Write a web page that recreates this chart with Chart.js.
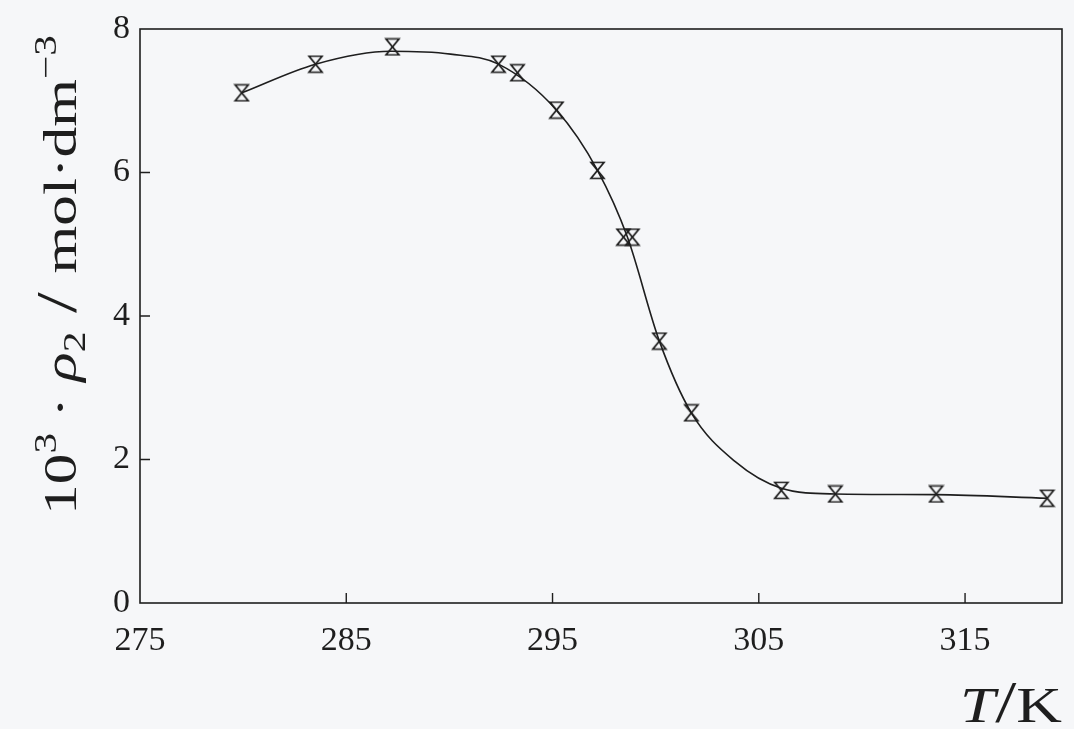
<!DOCTYPE html>
<html>
<head>
<meta charset="utf-8">
<script src="https://cdn.jsdelivr.net/npm/chart.js@4.4.1/dist/chart.umd.min.js"></script>
<style>
  html, body { margin: 0; padding: 0; background: #f6f7f9; }
  #wrap { width: 1074px; height: 729px; }
</style>
</head>
<body>
<div id="wrap"><canvas id="c" width="1074" height="729"></canvas></div>
<script>
// measured points (T / K, 10^3·rho2 / mol dm^-3)
const temps = [279.93, 283.51, 287.24, 292.38, 293.30, 295.19, 297.18, 298.44, 298.87, 300.18, 301.73, 306.09, 308.71, 313.60, 318.98];
const rho   = [7.11, 7.51, 7.75, 7.51, 7.39, 6.87, 6.03, 5.10, 5.10, 3.65, 2.65, 1.57, 1.52, 1.52, 1.46];

// fitted curve
const curveT   = [279.93, 283.51, 287.15, 290.06, 292.38, 295.19, 297.18, 298.63, 300.18, 301.73, 303.86, 306.09, 308.71, 313.60, 318.98];
const curveRho = [7.11, 7.51, 7.69, 7.65, 7.51, 6.87, 6.03, 5.10, 3.65, 2.65, 1.97, 1.60, 1.52, 1.51, 1.46];

const xTicks = [275, 285, 295, 305, 315];
const yTicks = [0, 2, 4, 6, 8];

const INK = '#1e1e1e';
const SERIF = '"Liberation Serif", "DejaVu Serif", serif';

// hourglass marker (two opposed triangles)
function hourglass() {
  const c = document.createElement('canvas');
  c.width = 17; c.height = 19;
  const g = c.getContext('2d');
  g.strokeStyle = INK; g.lineWidth = 1.7; g.lineJoin = 'miter';
  g.beginPath();
  g.moveTo(2, 1.5); g.lineTo(15, 1.5); g.lineTo(2, 17.5); g.lineTo(15, 17.5); g.closePath();
  g.stroke();
  return c;
}

// draws a run of text pieces with mixed fonts, centred on (0,0), stretched to a target length
function drawRuns(ctx, runs, target) {
  let total = 0;
  runs.forEach(r => { ctx.font = r.font; r.w = ctx.measureText(r.t).width; total += r.w; });
  const k = target ? target / total : 1;
  ctx.scale(k, 1);
  let x = -total / 2;
  runs.forEach(r => { ctx.font = r.font; ctx.fillText(r.t, x, r.dy || 0); x += r.w; });
}

const framePlugin = {
  id: 'frame',
  afterDraw(chart) {
    const { ctx, chartArea: a, scales: { x, y } } = chart;
    ctx.save();
    ctx.strokeStyle = INK; ctx.lineWidth = 1.6;
    ctx.strokeRect(a.left, a.top, a.right - a.left, a.bottom - a.top);
    // inward ticks
    ctx.lineWidth = 1.4;
    ctx.beginPath();
    xTicks.forEach(v => {
      if (v === xTicks[0]) return;
      const px = x.getPixelForValue(v);
      ctx.moveTo(px, a.bottom); ctx.lineTo(px, a.bottom - 10);
    });
    yTicks.forEach(v => {
      if (v === 0 || v === 8) return;
      const py = y.getPixelForValue(v);
      ctx.moveTo(a.left, py); ctx.lineTo(a.left + 10, py);
    });
    ctx.stroke();

    ctx.fillStyle = INK;
    ctx.textBaseline = 'alphabetic';
    // y title
    ctx.save();
    ctx.translate(76, 275);
    ctx.rotate(-Math.PI / 2);
    drawRuns(ctx, [
      { t: '10', font: `46px ${SERIF}` },
      { t: '3', font: `31px ${SERIF}`, dy: -20 },
      { t: ' · ', font: `46px ${SERIF}` },
      { t: 'ρ', font: `italic 46px ${SERIF}` },
      { t: '2', font: `31px ${SERIF}`, dy: 9 },
      { t: ' / ', font: `56px ${SERIF}` },
      { t: 'mol·dm', font: `46px ${SERIF}` },
      { t: '−3', font: `31px ${SERIF}`, dy: -20 },
    ], 480);
    ctx.restore();
    // x title
    ctx.save();
    ctx.translate(1011, 722);
    drawRuns(ctx, [
      { t: 'T', font: `italic 50px ${SERIF}` },
      { t: '/', font: `60px ${SERIF}` },
      { t: 'K', font: `50px ${SERIF}` },
    ], 102);
    ctx.restore();
    ctx.restore();
  }
};

const marker = hourglass();

new Chart(document.getElementById('c'), {
  type: 'scatter',
  data: {
    datasets: [
      {
        label: 'fit',
        data: curveT.map((t, i) => ({ x: t, y: curveRho[i] })),
        showLine: true,
        borderColor: INK,
        borderWidth: 1.6,
        pointRadius: 0,
        cubicInterpolationMode: 'monotone',
        order: 2,
      },
      {
        label: 'rho2',
        data: temps.map((t, i) => ({ x: t, y: rho[i] })),
        pointStyle: marker,
        pointRadius: 8,
        showLine: false,
        order: 1,
      },
    ],
  },
  options: {
    responsive: false,
    animation: false,
    layout: { padding: { top: 29, right: 12, left: 0, bottom: 0 } },
    plugins: { legend: { display: false }, tooltip: { enabled: false } },
    scales: {
      x: {
        type: 'linear', min: 275, max: 319.7,
        afterBuildTicks: s => { s.ticks = xTicks.map(v => ({ value: v })); },
        afterFit: s => { s.height = 126; },
        grid: { display: false },
        border: { display: false },
        ticks: { color: INK, font: { family: SERIF, size: 34 }, padding: 10, maxRotation: 0 },
      },
      y: {
        min: 0, max: 8,
        afterBuildTicks: s => { s.ticks = yTicks.map(v => ({ value: v })); },
        afterFit: s => { s.width = 140; },
        grid: { display: false },
        border: { display: false },
        ticks: { color: INK, font: { family: SERIF, size: 34 }, padding: 2 },
      },
    },
  },
  plugins: [framePlugin],
});
</script>
</body>
</html>
